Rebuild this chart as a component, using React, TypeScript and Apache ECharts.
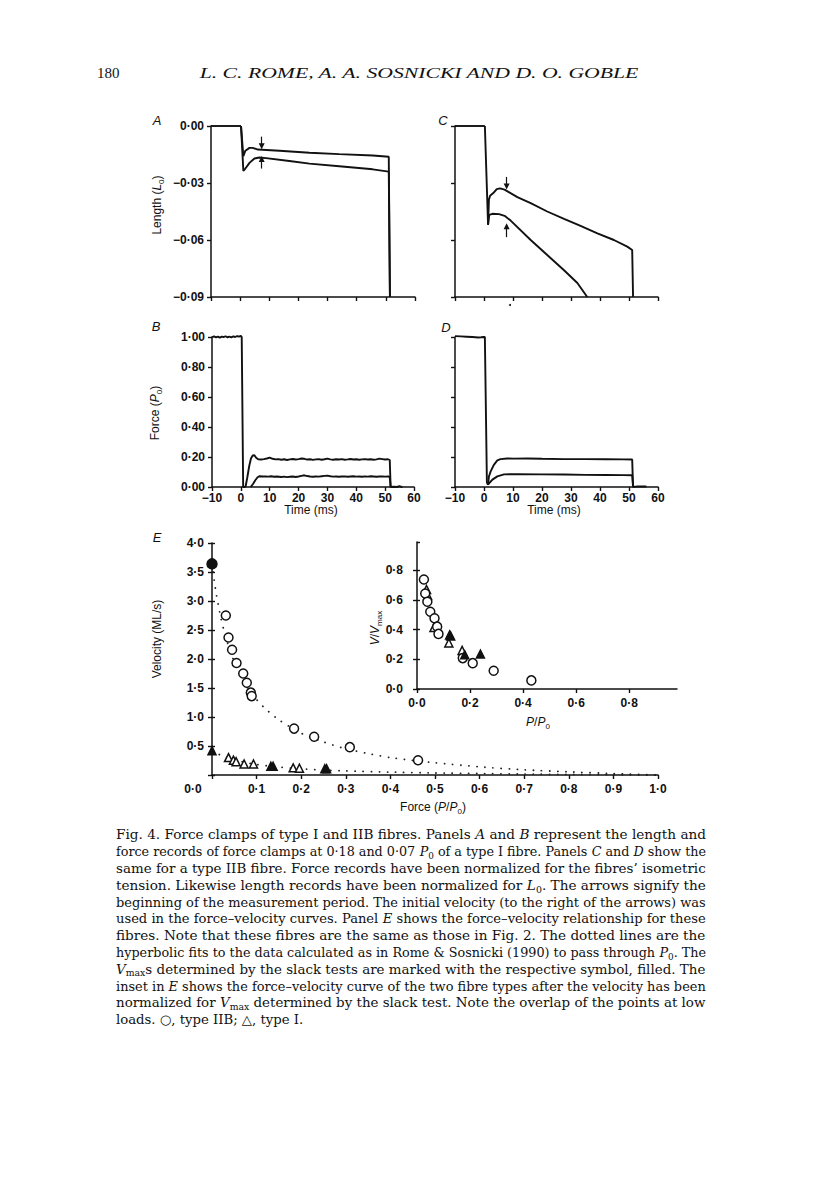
import React, { useEffect, useRef } from 'react';
import * as echarts from 'echarts';

type Pt = [number, number];

// ---------- Panel A: type I fibre, length (L0) vs time (ms)
const A_STEP: Pt[] = [[-10, 0], [0.3, 0]];
const A_UPPER: Pt[] = [[0.3, 0], [1.1, -0.0159], [1.8, -0.013], [3.2, -0.0115], [4.3, -0.0115], [6.1, -0.0124], [13.5, -0.013], [23.8, -0.0141], [34, -0.0148], [45.5, -0.0155], [51, -0.0162], [51.4, -0.09]];
const A_LOWER: Pt[] = [[0.3, 0], [1.1, -0.0236], [1.8, -0.0224], [3.2, -0.0194], [4.9, -0.0171], [6.6, -0.0166], [8.9, -0.0169], [16.9, -0.0184], [23.8, -0.0198], [34, -0.0212], [45.5, -0.0228], [51, -0.024], [51.4, -0.09]];
const A_ARROW_DOWN: Pt[] = [[7.4, -0.0056], [7.4, -0.0106]];
const A_ARROW_UP: Pt[] = [[7.4, -0.0224], [7.4, -0.0174]];

// ---------- Panel C: type IIB fibre, length
const C_STEP: Pt[] = [[-10, 0], [0.3, 0]];
const C_UPPER: Pt[] = [[0.3, 0], [1.4, -0.052], [1.7, -0.0388], [2.1, -0.0367], [3.2, -0.0353], [4.4, -0.0332], [5.5, -0.0328], [7.1, -0.0335], [11.5, -0.0374], [16.1, -0.0406], [21.8, -0.045], [27.6, -0.0489], [33.3, -0.0526], [39.1, -0.0565], [44.8, -0.06], [49.4, -0.0635], [51.1, -0.0653], [51.4, -0.09]];
const C_LOWER: Pt[] = [[1.4, -0.052], [1.8, -0.0468], [2.9, -0.0462], [5.2, -0.0464], [7.1, -0.0473], [9.2, -0.0498], [16.1, -0.06], [21.8, -0.0679], [27.6, -0.0759], [32.2, -0.0826], [35.6, -0.09]];
const C_ARROW_DOWN: Pt[] = [[7.8, -0.0268], [7.8, -0.0318]];
const C_ARROW_UP: Pt[] = [[7.8, -0.0585], [7.8, -0.0528]];

// ---------- Panel B: type I fibre, force (P0)
const B_STEP: Pt[] = [[-10, 0.998], [-9.3, 1.004], [-8.6, 0.997], [-8, 1.002], [-7.3, 0.996], [-6.6, 1.003], [-6, 0.999], [-5.3, 1.005], [-4.6, 0.998], [-4, 1.002], [-3.3, 0.997], [-2.6, 1.004], [-2, 1.0], [-1.3, 1.006], [-0.6, 1.003], [0, 1.008], [0.3, 1.0], [0.8, 0], [1.6, 0]];
const B_UPPER: Pt[] = [[1.6, 0], [2.2, 0.06], [2.9, 0.14], [3.5, 0.19], [4.1, 0.21], [4.7, 0.212], [5.3, 0.195], [6, 0.185], [7, 0.183], [8, 0.186], [9, 0.19], [10, 0.196], [11, 0.188], [12, 0.184], [13, 0.186], [14, 0.182], [15, 0.185], [16, 0.18], [17, 0.184], [18, 0.187], [19, 0.183], [20, 0.186], [21, 0.19], [22, 0.188], [23, 0.183], [24, 0.185], [25, 0.181], [26, 0.184], [27, 0.186], [28, 0.182], [29, 0.185], [30, 0.189], [31, 0.184], [32, 0.182], [33, 0.185], [34, 0.183], [35, 0.186], [36, 0.182], [37, 0.184], [38, 0.187], [39, 0.183], [40, 0.185], [41, 0.182], [42, 0.184], [43, 0.186], [44, 0.183], [45, 0.185], [46, 0.182], [47, 0.184], [48, 0.189], [49, 0.186], [50, 0.183], [51, 0.185], [51.6, 0.18], [51.9, 0], [53, 0.002], [54, 0], [55, 0.006], [55.6, 0], [56, 0.002]];
const B_LOWER: Pt[] = [[3.4, 0], [4.2, 0.02], [5, 0.045], [5.8, 0.065], [6.5, 0.072], [7.5, 0.07], [8.5, 0.071], [9.5, 0.069], [10.5, 0.072], [11.5, 0.068], [12.5, 0.07], [14, 0.067], [15, 0.069], [16, 0.066], [17, 0.068], [18, 0.07], [19, 0.067], [20, 0.07], [21, 0.074], [22, 0.078], [23, 0.073], [24, 0.07], [25, 0.068], [26, 0.07], [27, 0.069], [28, 0.072], [29, 0.074], [30, 0.076], [31, 0.072], [32, 0.069], [33, 0.07], [34, 0.068], [35, 0.07], [36, 0.071], [37, 0.068], [38, 0.07], [39, 0.072], [40, 0.069], [41, 0.07], [42, 0.068], [43, 0.071], [44, 0.069], [45, 0.072], [46, 0.07], [47, 0.068], [48, 0.07], [49, 0.071], [50, 0.069], [51, 0.07], [51.6, 0.068], [51.9, 0]];

// ---------- Panel D: type IIB fibre, force
const D_STEP: Pt[] = [[-10, 1.006], [-8, 1.004], [-6, 1.002], [-4, 1.0], [-2, 0.997], [-1, 0.998], [0, 1.0], [0.3, 1.0], [1.0, 0.03], [1.4, 0.015]];
const D_UPPER: Pt[] = [[1.4, 0.015], [1.7, 0.07], [2.3, 0.104], [3.4, 0.148], [4.6, 0.177], [5.7, 0.186], [8, 0.19], [10.3, 0.189], [15, 0.19], [20, 0.188], [27.6, 0.186], [35, 0.186], [42, 0.185], [48, 0.184], [51.1, 0.183], [51.4, 0]];
const D_LOWER: Pt[] = [[1.4, 0.015], [2, 0.03], [2.9, 0.049], [4.6, 0.071], [6.9, 0.084], [11.5, 0.086], [20, 0.084], [27.6, 0.083], [35, 0.081], [42, 0.08], [48, 0.079], [51.1, 0.078], [51.4, 0], [53, 0.004], [56, 0.003]];

// ---------- Panel E: force-velocity (P/P0, ML/s)
const E_IIB_OPEN: Pt[] = [[0.031, 2.75], [0.037, 2.37], [0.045, 2.16], [0.055, 1.93], [0.07, 1.75], [0.078, 1.59], [0.087, 1.42], [0.089, 1.36], [0.184, 0.8], [0.229, 0.66], [0.309, 0.48], [0.462, 0.255]];
const E_IIB_FILLED: Pt[] = [[0, 3.64]];
const E_I_OPEN: Pt[] = [[0.037, 0.3], [0.048, 0.255], [0.054, 0.23], [0.072, 0.19], [0.093, 0.19], [0.182, 0.124], [0.196, 0.117]];
const E_I_FILLED: Pt[] = [[0, 0.42], [0.132, 0.15], [0.137, 0.15], [0.253, 0.107], [0.257, 0.107]];
const FIT_IIB: Pt[] = [[0, 3.64], [0.005, 3.35], [0.01, 3.1], [0.015, 2.9], [0.02, 2.7], [0.03, 2.4], [0.04, 2.15], [0.05, 1.95], [0.06, 1.78], [0.08, 1.5], [0.1, 1.3], [0.12, 1.14], [0.15, 0.95], [0.2, 0.72], [0.25, 0.57], [0.3, 0.45], [0.35, 0.37], [0.4, 0.3], [0.45, 0.25], [0.5, 0.21], [0.6, 0.14], [0.7, 0.09], [0.8, 0.055], [0.9, 0.025], [1.0, 0]];
const FIT_I: Pt[] = [[0, 0.42], [0.02, 0.34], [0.04, 0.28], [0.06, 0.24], [0.08, 0.21], [0.1, 0.18], [0.15, 0.135], [0.2, 0.105], [0.25, 0.085], [0.3, 0.07], [0.4, 0.05], [0.5, 0.035], [0.6, 0.025], [0.7, 0.016], [0.8, 0.01], [0.9, 0.005], [1.0, 0]];

// ---------- Inset: V/Vmax vs P/P0
const IN_IIB: Pt[] = [[0.026, 0.737], [0.031, 0.643], [0.039, 0.588], [0.05, 0.52], [0.066, 0.476], [0.076, 0.42], [0.081, 0.371], [0.1725, 0.208], [0.21, 0.174], [0.289, 0.123], [0.431, 0.058]];
const IN_I_OPEN: Pt[] = [[0.036, 0.67], [0.04, 0.63], [0.064, 0.415], [0.12, 0.31], [0.17, 0.26]];
const IN_I_FILLED: Pt[] = [[0.123, 0.364], [0.127, 0.357], [0.18, 0.23], [0.239, 0.235]];

// ---------- Texts
const HEADER_PAGE = '180';
const HEADER_AUTHORS = 'L. C. ROME, A. A. SOSNICKI AND D. O. GOBLE';
const CAPTION: string[] = [
  'Fig. 4. Force clamps of type I and IIB fibres. Panels {i|A} and {i|B} represent the length and',
  'force records of force clamps at 0·18 and 0·07 {i|P}{s|0} of a type I fibre. Panels {i|C} and {i|D} show the',
  'same for a type IIB fibre. Force records have been normalized for the fibres’ isometric',
  'tension. Likewise length records have been normalized for {i|L}{s|0}. The arrows signify the',
  'beginning of the measurement period. The initial velocity (to the right of the arrows) was',
  'used in the force–velocity curves. Panel {i|E} shows the force–velocity relationship for these',
  'fibres. Note that these fibres are the same as those in Fig. 2. The dotted lines are the',
  'hyperbolic fits to the data calculated as in Rome & Sosnicki (1990) to pass through {i|P}{s|0}. The',
  '{i|V}{s|max}s determined by the slack tests are marked with the respective symbol, filled. The',
  'inset in {i|E} shows the force–velocity curve of the two fibre types after the velocity has been',
  'normalized for {i|V}{s|max} determined by the slack test. Note the overlap of the points at low',
  'loads. ○, type IIB; △, type I.',
];

const INK = '#111';
const SANS = '"Liberation Sans", Arial, sans-serif';
const SERIF = '"DejaVu Serif", serif';
const TSERIF = '"Liberation Serif", serif';

const dot = (v: number, d: number) => (v < -1e-12 ? '−' : '') + Math.abs(v).toFixed(d).replace('.', '·');
const timeFmt = (v: number) => (v < 0 ? '−' : '') + Math.abs(Math.round(v));

let mctx: CanvasRenderingContext2D | null = null;
function measure(font: string, text: string) {
  if (!mctx) mctx = document.createElement('canvas').getContext('2d');
  if (!mctx) return text.length * 7;
  mctx.font = font;
  return mctx.measureText(text).width;
}

function parseRich(line: string): [string, string][] {
  const out: [string, string][] = [];
  const re = /\{(\w)\|([^}]*)\}/g;
  let last = 0;
  let m: RegExpExecArray | null;
  while ((m = re.exec(line))) {
    if (m.index > last) out.push(['n', line.slice(last, m.index)]);
    out.push([m[1], m[2]]);
    last = re.lastIndex;
  }
  if (last < line.length) out.push(['n', line.slice(last)]);
  return out;
}

const labelFont = { color: INK, fontFamily: SANS, fontSize: 12, fontWeight: 'bold' as const };

function axis(gridIndex: number, min: number, max: number, interval: number, label: any) {
  return {
    type: 'value',
    gridIndex,
    min,
    max,
    interval,
    axisLine: { show: true, onZero: false, lineStyle: { color: INK, width: 1.5 } },
    axisTick: { show: true, inside: false, length: 4, lineStyle: { color: INK, width: 1.4 } },
    splitLine: { show: false },
    axisLabel: label ? { show: true, ...labelFont, ...label } : { show: false },
  };
}

// companion axis drawing only inner ticks, so the ticks cross the axis line
function innerTicks(gridIndex: number, min: number, max: number, interval: number) {
  return {
    type: 'value',
    gridIndex,
    min,
    max,
    interval,
    position: 'left',
    axisLine: { show: false, onZero: false },
    axisTick: { show: true, inside: true, length: 3, lineStyle: { color: INK, width: 1.4 } },
    splitLine: { show: false },
    axisLabel: { show: false },
  };
}

function trace(idx: number, data: Pt[], extra: any = {}) {
  return {
    type: 'line',
    xAxisIndex: idx,
    yAxisIndex: idx,
    data,
    symbol: 'none',
    showSymbol: false,
    clip: false,
    silent: true,
    animation: false,
    lineStyle: { color: INK, width: 1.9 },
    ...extra,
  };
}

function arrows(list: Pt[][]) {
  return {
    silent: true,
    animation: false,
    symbol: ['none', 'triangle'],
    symbolSize: 6,
    label: { show: false },
    lineStyle: { color: INK, width: 1.2, type: 'solid' },
    emphasis: { disabled: true },
    data: list.map(([a, b]) => [{ coord: a }, { coord: b }]),
  };
}

function scat(idx: number, data: Pt[], symbol: string, size: number, filled: boolean) {
  return {
    type: 'scatter',
    xAxisIndex: idx,
    yAxisIndex: idx,
    data,
    symbol,
    symbolSize: size,
    silent: true,
    animation: false,
    z: 4,
    itemStyle: { color: filled ? INK : '#fff', borderColor: INK, borderWidth: 1.5, opacity: 1 },
  };
}

function fit(data: Pt[]) {
  return {
    type: 'line',
    xAxisIndex: 4,
    yAxisIndex: 4,
    data,
    symbol: 'none',
    showSymbol: false,
    clip: false,
    silent: true,
    animation: false,
    z: 2,
    smooth: 0.2,
    lineStyle: { color: '#222', width: 1.8, type: [0.1, 8], cap: 'round' },
  };
}

function sansRich(size: number) {
  return {
    n: { fontFamily: SANS, fontSize: size, fill: INK, lineHeight: size + 4 },
    i: { fontFamily: SANS, fontSize: size, fontStyle: 'italic', fill: INK, lineHeight: size + 4 },
    s: { fontFamily: SANS, fontSize: size - 4, fill: INK, lineHeight: size - 1, verticalAlign: 'bottom' },
  };
}

function richText(line: string) {
  return parseRich(line).map(([k, t]) => `{${k}|${t}}`).join('');
}

function axisName(text: string, x: number, y: number, rotate: boolean, size = 12) {
  return {
    type: 'text',
    x,
    y,
    rotation: rotate ? Math.PI / 2 : 0,
    silent: true,
    style: {
      text: richText(text),
      rich: sansRich(size),
      align: 'center',
      verticalAlign: 'middle',
      textAlign: 'center',
      textVerticalAlign: 'middle',
    },
  };
}

function panelLetter(t: string, x: number, y: number) {
  return {
    type: 'text',
    x,
    y,
    silent: true,
    style: {
      text: t,
      fontFamily: SANS,
      fontSize: 13,
      fontStyle: 'italic',
      fill: INK,
      align: 'center',
      verticalAlign: 'middle',
      textAlign: 'center',
      textVerticalAlign: 'middle',
    },
  };
}

function captionElements() {
  const size = 13;
  const fonts: Record<string, string> = {
    n: `${size}px ${SERIF}`,
    i: `italic ${size}px ${SERIF}`,
    s: `9px ${SERIF}`,
  };
  const rich = {
    n: { fontFamily: SERIF, fontSize: size, fill: INK, lineHeight: 17 },
    i: { fontFamily: SERIF, fontSize: size, fontStyle: 'italic', fill: INK, lineHeight: 17 },
    s: { fontFamily: SERIF, fontSize: 9, fill: INK, lineHeight: 12, verticalAlign: 'bottom' },
  };
  const target = 590;
  const widths = CAPTION.map((l) => parseRich(l).reduce((acc, [k, t]) => acc + measure(fonts[k], t), 0));
  const scales = widths.map((w) => target / w);
  const full = scales.slice(0, scales.length - 1);
  const avg = full.reduce((a, b) => a + b, 0) / full.length;
  return CAPTION.map((line, i) => ({
    type: 'text',
    x: 116,
    y: 835 + 16.8 * i,
    scaleX: i === CAPTION.length - 1 ? avg : scales[i],
    silent: true,
    style: {
      text: richText(line),
      rich,
      align: 'left',
      verticalAlign: 'middle',
      textAlign: 'left',
      textVerticalAlign: 'middle',
    },
  }));
}

function headerElements() {
  const aFont = `italic 15px ${TSERIF}`;
  const w = measure(aFont, HEADER_AUTHORS);
  return [
    {
      type: 'text',
      x: 97,
      y: 73,
      silent: true,
      style: { text: HEADER_PAGE, fontFamily: TSERIF, fontSize: 15, fill: INK, align: 'left', verticalAlign: 'middle', textAlign: 'left', textVerticalAlign: 'middle' },
    },
    {
      type: 'text',
      x: 419,
      y: 73,
      scaleX: 440 / w,
      silent: true,
      style: { text: HEADER_AUTHORS, fontFamily: TSERIF, fontSize: 15, fontStyle: 'italic', fill: INK, align: 'center', verticalAlign: 'middle', textAlign: 'center', textVerticalAlign: 'middle' },
    },
  ];
}

function buildOption() {
  const grids = [
    { left: 211, top: 126, width: 204, height: 171 }, // A
    { left: 455, top: 126, width: 203, height: 171 }, // C
    { left: 212, top: 337, width: 202, height: 150 }, // B
    { left: 455, top: 337, width: 203, height: 150 }, // D
    { left: 212, top: 543, width: 446, height: 232 }, // E
    { left: 417, top: 542, width: 260, height: 147 }, // inset
  ].map((g) => ({ ...g, containLabel: false, outerBoundsMode: 'none', show: false }));

  const xAxis = [
    axis(0, -10, 60, 10, null),
    axis(1, -10, 60, 10, null),
    axis(2, -10, 60, 10, { formatter: timeFmt, margin: 5 }),
    axis(3, -10, 60, 10, { formatter: timeFmt, margin: 5 }),
    axis(4, 0, 1, 0.1, {
      formatter: (v: number) => (Math.abs(v) < 1e-9 ? '{z|0·0}' : dot(v, 1)),
      margin: 8,
      rich: { z: { ...labelFont, padding: [0, 38, 0, 0] } },
    }),
    axis(5, 0, 0.98, 0.2, {
      formatter: (v: number) => dot(v, 1),
      margin: 8,
      showMaxLabel: false,
    }),
  ];
  const yAxis = [
    axis(0, -0.09, 0, 0.03, { formatter: (v: number) => dot(v, 2), margin: 7 }),
    axis(1, -0.09, 0, 0.03, null),
    axis(2, 0, 1, 0.2, { formatter: (v: number) => dot(v, 2), margin: 7 }),
    axis(3, 0, 1, 0.2, null),
    axis(4, 0, 4, 0.5, { formatter: (v: number) => (Math.abs(v) < 1e-9 ? '' : dot(v, 1)), margin: 8 }),
    axis(5, 0, 0.99, 0.2, { formatter: (v: number) => dot(v, 1), margin: 14, showMaxLabel: false }),
    innerTicks(4, 0, 4, 0.5),
    innerTicks(5, 0, 0.99, 0.2),
  ];

  const series = [
    trace(0, A_STEP),
    trace(0, A_UPPER, { markLine: arrows([A_ARROW_DOWN, A_ARROW_UP]) }),
    trace(0, A_LOWER),
    trace(1, C_STEP),
    trace(1, C_UPPER, { markLine: arrows([C_ARROW_DOWN, C_ARROW_UP]) }),
    trace(1, C_LOWER),
    trace(2, B_STEP),
    trace(2, B_UPPER),
    trace(2, B_LOWER),
    trace(3, D_STEP),
    trace(3, D_UPPER),
    trace(3, D_LOWER),
    fit(FIT_IIB),
    fit(FIT_I),
    scat(4, E_I_OPEN, 'triangle', 8, false),
    scat(4, E_I_FILLED, 'triangle', 8, true),
    scat(4, E_IIB_OPEN, 'circle', 9, false),
    scat(4, E_IIB_FILLED, 'circle', 10, true),
    scat(5, IN_I_OPEN, 'triangle', 8, false),
    scat(5, IN_IIB, 'circle', 9, false),
    scat(5, IN_I_FILLED, 'triangle', 8, true),
  ];

  const graphic = [
    ...headerElements(),
    panelLetter('A', 157, 120),
    panelLetter('C', 443, 120),
    panelLetter('B', 156, 326),
    panelLetter('D', 446, 327),
    panelLetter('E', 157, 537),
    axisName('Length ({i|L}{s|0})', 157, 205, true),
    axisName('Force ({i|P}{s|0})', 155, 413, true),
    axisName('Time (ms)', 311, 510, false),
    axisName('Time (ms)', 554, 510, false),
    axisName('Velocity (ML/s)', 157, 639, true),
    axisName('Force ({i|P}/{i|P}{s|0})', 433, 807, false),
    axisName('{i|V}/{i|V}{s|max}', 375, 628, true),
    axisName('{i|P}/{i|P}{s|0}', 538, 722, false),
    { type: 'circle', silent: true, shape: { cx: 510, cy: 305, r: 1 }, style: { fill: INK } },
    ...captionElements(),
  ];

  return {
    animation: false,
    backgroundColor: '#fff',
    textStyle: { fontFamily: SANS },
    grid: grids,
    xAxis,
    yAxis,
    series,
    graphic,
  };
}

export default function App() {
  const ref = useRef<HTMLDivElement>(null);
  useEffect(() => {
    if (!ref.current) return;
    const chart = echarts.init(ref.current, null, { renderer: 'svg', width: 816, height: 1181 });
    chart.setOption(buildOption() as any);
    return () => chart.dispose();
  }, []);
  return (
    <div
      ref={ref}
      style={{ position: 'absolute', left: 0, top: 0, width: 816, height: 1181, background: '#fff' }}
    />
  );
}
